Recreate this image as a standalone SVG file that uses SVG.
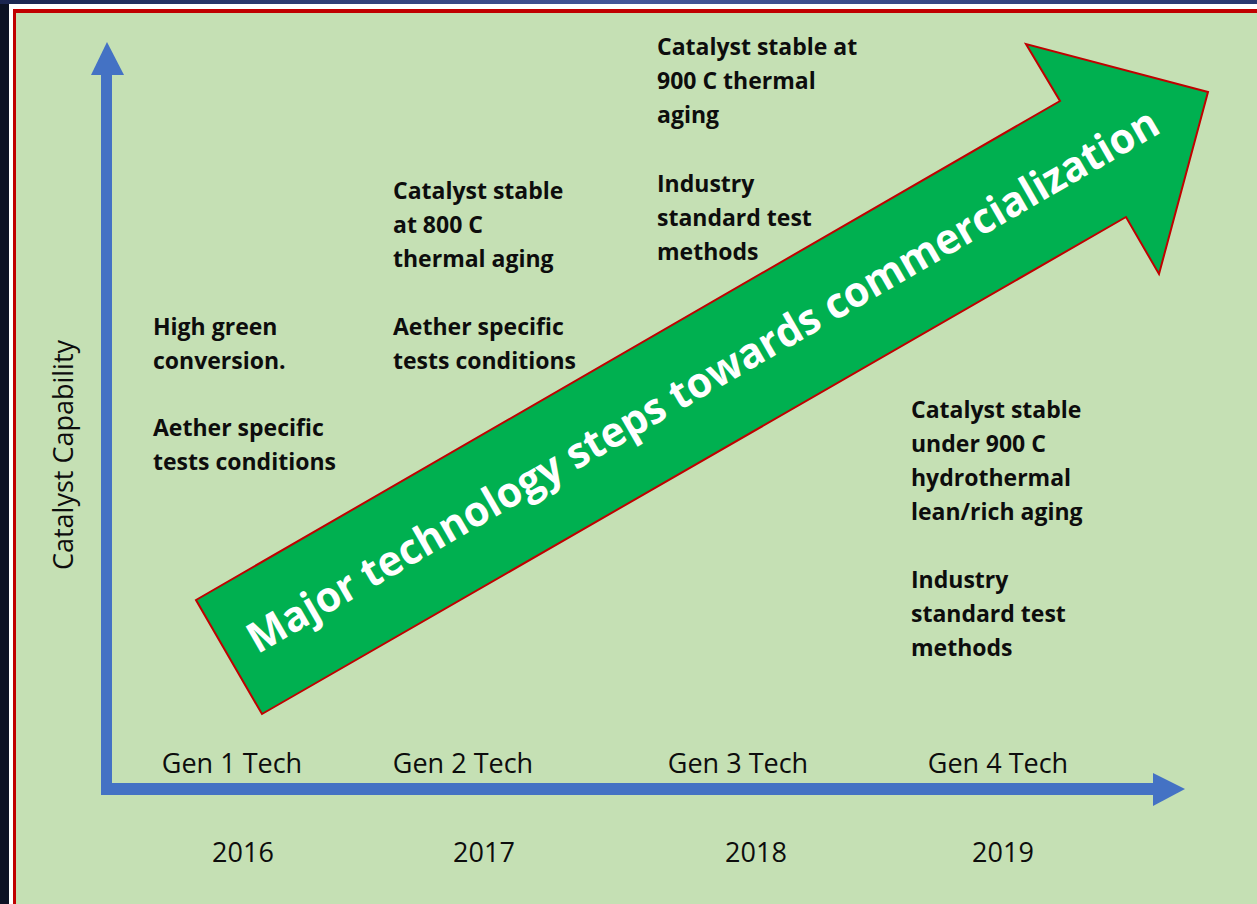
<svg xmlns="http://www.w3.org/2000/svg" width="1257" height="904" viewBox="0 0 1257 904">
  <defs>
    <linearGradient id="topband" x1="0" y1="0" x2="1" y2="0">
      <stop offset="0" stop-color="#1a2550"/>
      <stop offset="0.5" stop-color="#45579a"/>
      <stop offset="1" stop-color="#2a3870"/>
    </linearGradient>
    <style>
      .note { font-family: "Open Sans", "Liberation Sans", sans-serif; font-weight: 700; font-size: 23px; fill: #0d0d0d; }
      .lbl { font-family: "Open Sans", "Liberation Sans", sans-serif; font-weight: 400; font-size: 27px; fill: #0d0d0d; text-anchor: middle; }
      .axis { fill: #4472c4; }
      .big { font-family: "Open Sans", "Liberation Sans", sans-serif; font-weight: 700; font-size: 42px; fill: #ffffff; text-anchor: middle; }
    </style>
  </defs>

  <!-- background frame -->
  <rect x="0" y="0" width="1257" height="904" fill="#0c1224"/>
  <rect x="0" y="0" width="1257" height="4" fill="url(#topband)"/>
  <rect x="9" y="4" width="1260" height="910" fill="#ffffff"/>
  <rect x="13" y="9" width="1260" height="910" fill="#c00000"/>
  <rect x="16" y="13" width="1260" height="910" fill="#c5e0b4"/>

  <!-- axes -->
  <g id="connectors">
    <g id="y-axis">
      <rect class="axis" x="101" y="74" width="11" height="721"/>
      <polygon class="axis" points="91,75 107,42 124,75"/>
    </g>
    <g id="x-axis">
      <rect class="axis" x="101" y="783" width="1053" height="12"/>
      <polygon class="axis" points="1153,773 1185,789 1153,806"/>
    </g>
  </g>

  <!-- big arrow -->
  <g id="progress-arrow">
    <polygon points="196,600 1060,101 1026,44 1208,92 1159,274 1126,217 262,714" fill="#00b050" stroke="#c00000" stroke-width="2" stroke-linejoin="miter"/>
    <text class="big" x="710" y="393" transform="rotate(-30 710 393)" textLength="1045" lengthAdjust="spacingAndGlyphs">Major technology steps towards commercialization</text>
  </g>

  <!-- axis label -->
  <g id="y-label">
    <text class="lbl" x="73" y="455" transform="rotate(-90 73 455)">Catalyst Capability</text>
  </g>

  <!-- notes -->
  <g id="gen1-notes">
    <text class="note" x="153" y="335">High green</text>
    <text class="note" x="153" y="369">conversion.</text>
    <text class="note" x="153" y="436">Aether specific</text>
    <text class="note" x="153" y="470">tests conditions</text>
  </g>
  <g id="gen2-notes">
    <text class="note" x="393" y="199">Catalyst stable</text>
    <text class="note" x="393" y="233">at 800 C</text>
    <text class="note" x="393" y="267">thermal aging</text>
    <text class="note" x="393" y="335">Aether specific</text>
    <text class="note" x="393" y="369">tests conditions</text>
  </g>
  <g id="gen3-notes">
    <text class="note" x="657" y="55">Catalyst stable at</text>
    <text class="note" x="657" y="89">900 C thermal</text>
    <text class="note" x="657" y="123">aging</text>
    <text class="note" x="657" y="192">Industry</text>
    <text class="note" x="657" y="226">standard test</text>
    <text class="note" x="657" y="260">methods</text>
  </g>
  <g id="gen4-notes">
    <text class="note" x="911" y="418">Catalyst stable</text>
    <text class="note" x="911" y="452">under 900 C</text>
    <text class="note" x="911" y="486">hydrothermal</text>
    <text class="note" x="911" y="520">lean/rich aging</text>
    <text class="note" x="911" y="588">Industry</text>
    <text class="note" x="911" y="622">standard test</text>
    <text class="note" x="911" y="656">methods</text>
  </g>

  <!-- generation labels -->
  <g id="gen1"><text class="lbl" x="232" y="773">Gen 1 Tech</text><text class="lbl" x="243" y="862">2016</text></g>
  <g id="gen2"><text class="lbl" x="463" y="773">Gen 2 Tech</text><text class="lbl" x="484" y="862">2017</text></g>
  <g id="gen3"><text class="lbl" x="738" y="773">Gen 3 Tech</text><text class="lbl" x="756" y="862">2018</text></g>
  <g id="gen4"><text class="lbl" x="998" y="773">Gen 4 Tech</text><text class="lbl" x="1003" y="862">2019</text></g>
</svg>
